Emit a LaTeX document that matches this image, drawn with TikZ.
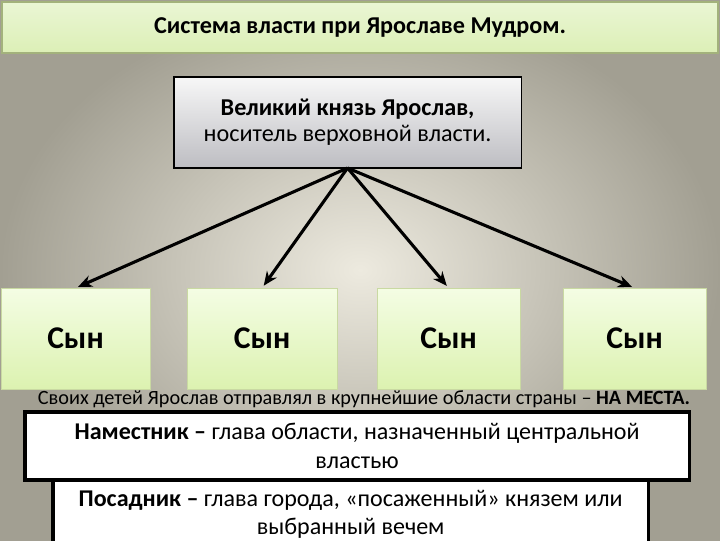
\documentclass[tikz,border=0pt]{standalone}
\usepackage{fontspec}
\setmainfont{Carlito}
\usetikzlibrary{
	arrows.meta,
	positioning
}
\definecolor{bgin}{HTML}{EDEADF}
\definecolor{bgout}{HTML}{A29F92}
\definecolor{titletop}{HTML}{EAF6D4}
\definecolor{titlebot}{HTML}{DCEFB6}
\definecolor{titleline}{HTML}{A3B27C}
\definecolor{sontop}{HTML}{F4FDE4}
\definecolor{sonbot}{HTML}{DCF2B0}
\definecolor{sonline}{HTML}{C9D9A2}
\definecolor{princetop}{HTML}{F7F7F7}
\definecolor{princebot}{HTML}{BDBDC2}

\begin{document}
\begin{tikzpicture}[
				x=0.025cm, y=-0.025cm,
				box/.style={
					rectangle, inner sep=0pt, outer sep=0pt,
					align=center, anchor=north west
				},
				titlebox/.style={
					box, draw=titleline, line width=1pt,
					top color=titletop, bottom color=titlebot,
					minimum width=17.9cm, minimum height=1.275cm,
					font=\fontsize{17.2}{20}\selectfont\bfseries
				},
				princebox/.style={
					box, draw=black, line width=0.8pt,
					top color=princetop, bottom color=princebot,
					minimum width=8.675cm, minimum height=2.275cm,
					font=\fontsize{17.2}{18.6}\selectfont
				},
				sonbox/.style={
					box, draw=sonline, line width=0.5pt,
					top color=sontop, bottom color=sonbot,
					minimum width=3.75cm, minimum height=2.525cm,
					font=\fontsize{22.5}{27}\selectfont\bfseries
				},
				notebox/.style={
					box, draw=black, line width=2.2pt, fill=white,
					minimum height=1.7cm,
					font=\fontsize{17.1}{21}\selectfont
				},
				arrow/.style={-{Stealth[length=10pt,width=8.5pt]}, line width=2.2pt, black, shorten >=2pt}
				]
				
				% page and background
				\useasboundingbox (0,0) rectangle (720,540);
				\clip (0,0) rectangle (720,540);
				\shade[inner color=bgin, outer color=bgout] (0,0) rectangle (720,540);
				
				% title
				\node[titlebox] (title) at (2,2) {Система власти при Ярославе Мудром.};
				
				% grand prince
				\node[princebox] (prince) at (174,77) {\textbf{Великий князь Ярослав,}\\носитель верховной власти.};
				
				% sons
				\node[sonbox, minimum width=3.725cm] (son1) at (1,288) {Сын};
				\node[sonbox, right=0.925cm of son1] (son2) {Сын};
				\node[sonbox, minimum width=3.575cm, right=1cm of son2] (son3) {Сын};
				\node[sonbox, minimum width=3.575cm, right=1.075cm of son3] (son4) {Сын};
				
				% sent to the lands
				\node[font=\fontsize{14.4}{16}\selectfont] (places) at (364,401) {\underline{Своих детей Ярослав отправлял в крупнейшие области страны – \textbf{НА МЕСТА.}}};
				
				% governors
				\node[notebox, minimum width=16.6cm] (namestnik) at (25,412) {\textbf{Наместник –} глава области, назначенный центральной\\властью};
				\node[notebox, minimum width=14.875cm, font=\fontsize{17.1}{19.8}\selectfont] (posadnik) at (53,480) {\textbf{Посадник –} глава города, «посаженный» князем или\\выбранный вечем};
				
				% arrows from the prince to his sons
				\draw[arrow] (prince.south) -- (son1.north);
				\draw[arrow] (prince.south) -- (son2.north);
				\draw[arrow] (prince.south) -- (son3.north);
				\draw[arrow] (prince.south) -- (son4.north);
			\end{tikzpicture}
\end{document}
